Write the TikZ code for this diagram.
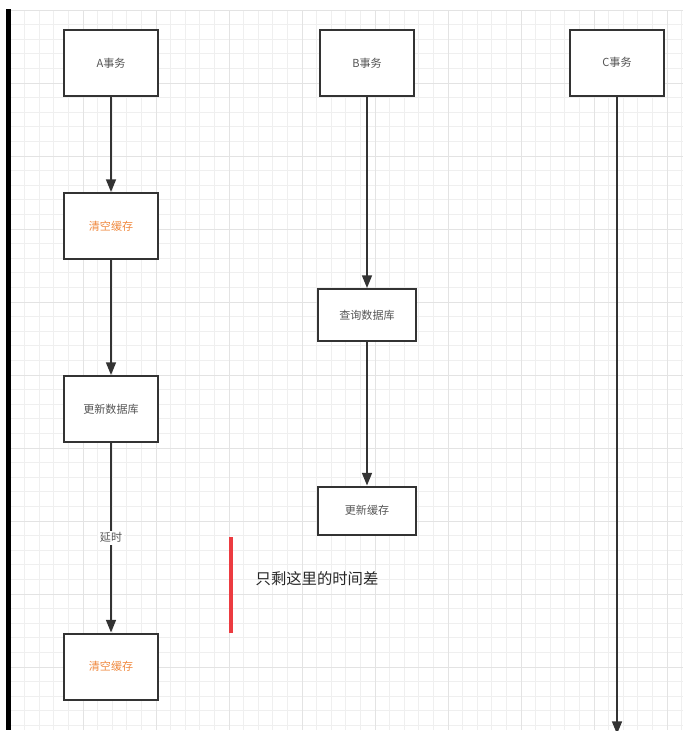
\documentclass[tikz,border=0pt]{standalone}
\usepackage{fontspec}
\setmainfont{Noto Sans CJK SC}
\usetikzlibrary{arrows.meta, positioning}
\definecolor{boxline}{HTML}{333333}
\definecolor{boxtext}{HTML}{555555}
\definecolor{myorange}{HTML}{F0893F}
\definecolor{myred}{HTML}{EC3B40}
\definecolor{gridminor}{HTML}{EFEFEF}
\definecolor{gridmajor}{HTML}{E3E3E3}
\tikzset{
	boxnode/.style={
			rectangle,
			draw=boxline,
			line width=1.5pt,
			fill=white,
			minimum width=70.5pt,
			minimum height=49.5pt,
			inner sep=0pt,
			text=boxtext,
			font=\fontsize{8.3}{10}\selectfont
		},
	smallboxnode/.style={
			boxnode,
			minimum width=73.5pt,
			minimum height=36pt
		},
	clearnode/.style={
			boxnode,
			text=myorange
		},
	flowarrow/.style={
			draw=boxline,
			line width=1.2pt,
			-{Triangle[length=9.5pt, width=7.5pt]}
		},
	delaylabel/.style={
			fill=white,
			inner sep=1.5pt,
			text=boxtext,
			font=\fontsize{8.3}{10}\selectfont
		}
}

\begin{document}
\begin{tikzpicture}[x=0.75pt, y=-0.75pt]
\useasboundingbox (0,0) rectangle (687,743);

% grid
\foreach \i in {0,...,46} \draw[gridminor, line width=0.6pt] ({10+14.6*\i},10) -- ({10+14.6*\i},730);
\foreach \j in {0,...,49} \draw[gridminor, line width=0.6pt] (10,{10+14.6*\j}) -- (683,{10+14.6*\j});
\foreach \i in {0,...,9} \draw[gridmajor, line width=0.7pt] ({10+73*\i},10) -- ({10+73*\i},730);
\foreach \j in {0,...,9} \draw[gridmajor, line width=0.7pt] (10,{10+73*\j}) -- (683,{10+73*\j});
\draw[black, line width=3.4pt] (8.3,9) -- (8.3,730);

\node[boxnode] (a1) at (111,63)  {A事务};
\node[clearnode] (a2) at (111,226)  {清空缓存};
\node[boxnode] (a3) at (111,409)  {更新数据库};
\node[clearnode] (a4) at (111,666.5)  {清空缓存};

\node[boxnode] (b1) at (367,63)  {B事务};
\node[smallboxnode, minimum height=39pt] (b2) at (367,315)  {查询数据库};
\node[smallboxnode] (b3) at (367,510.5)  {更新缓存};

\node[boxnode] (c1) at (617,62.5)  {C事务};
\coordinate (cend) at (617,734);

\draw[flowarrow] (a1) -- (a2);
\draw[flowarrow] (a2) -- (a3);
\draw[flowarrow] (a3) -- node[delaylabel] {延时} (a4);

\draw[flowarrow] (b1) -- (b2);
\draw[flowarrow] (b2) -- (b3);

\begin{scope}
\clip (0,0) rectangle (687,730);
\draw[flowarrow] (c1) -- (cend);
\end{scope}

% time gap
\coordinate (gaptop) at (231,537);
\coordinate (gapbot) at (231,633);
\draw[myred, line width=3pt] (gaptop) -- (gapbot);
\node[font=\fontsize{11.5}{14}\selectfont, text=black!85, anchor=west] (gaptext) at (251,579) {只剩这里的时间差};
\end{tikzpicture}
\end{document}
